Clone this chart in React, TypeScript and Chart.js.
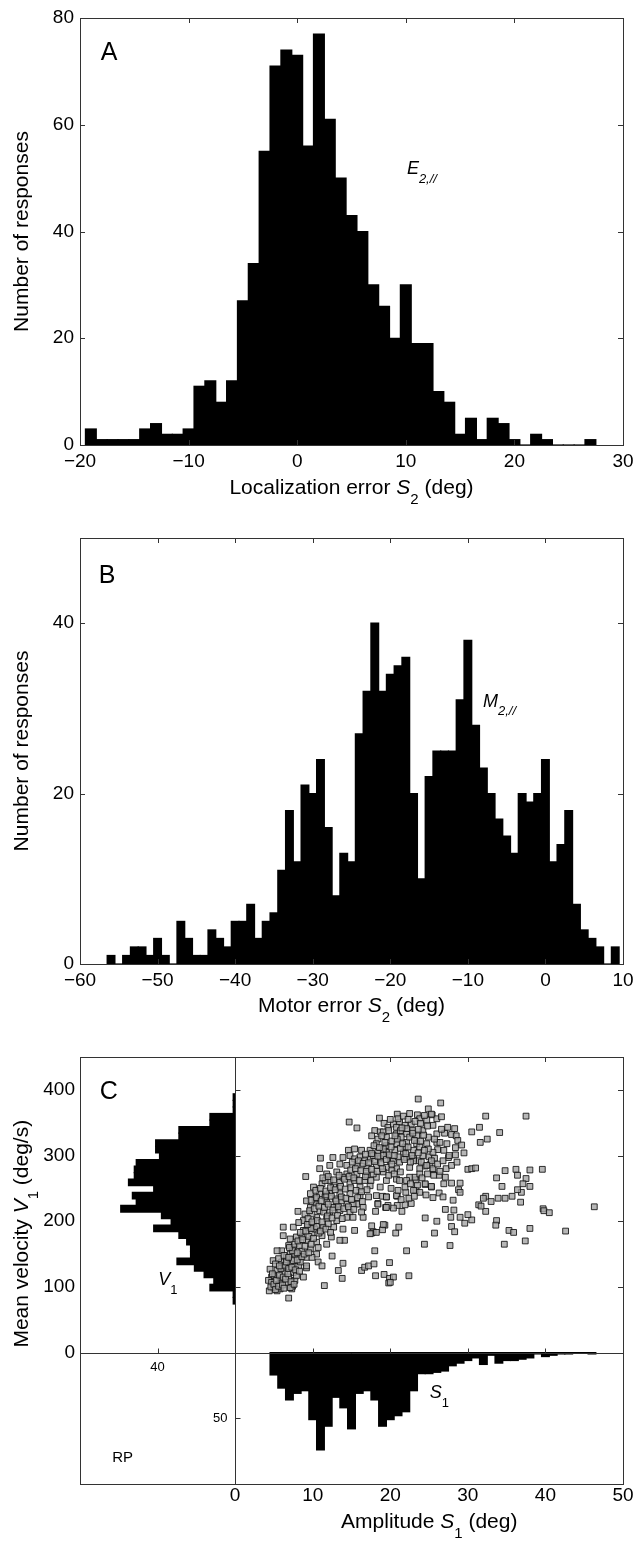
import React, { useEffect, useRef } from 'react';
import { Chart, registerables } from 'chart.js';
Chart.register(...registerables);

const FONT = '"Liberation Sans", Arial, Helvetica, sans-serif';
const LINE = '#333';

// ---------------- Panel A : localization error ----------------
const A_BINS = [-19,-18,-17,-16,-15,-14,-13,-12,-11,-10,-9,-8,-7,-6,-5,-4,-3,-2,-1,0,1,2,3,4,5,6,7,8,9,10,11,12,13,14,15,16,17,18,19,20,21,22,23,24,25,26,27];
const A_COUNTS = [3,1,1,1,1,3,4,2,2,3,11,12,8,12,27,34,55,71,74,73,56,77,61,50,43,40,30,26,20,30,19,19,10,8,2,5,1,5,4,1,0,2,1,0,0,0,1];
const A_X_TICKS = [-20, -10, 0, 10, 20, 30];
const A_Y_TICKS = [0, 20, 40, 60, 80];

// ---------------- Panel B : motor error ----------------
const B_BINS = [-56,-55,-54,-53,-52,-51,-50,-49,-48,-47,-46,-45,-44,-43,-42,-41,-40,-39,-38,-37,-36,-35,-34,-33,-32,-31,-30,-29,-28,-27,-26,-25,-24,-23,-22,-21,-20,-19,-18,-17,-16,-15,-14,-13,-12,-11,-10,-9,-8,-7,-6,-5,-4,-3,-2,-1,0,1,2,3,4,5,6,7,8,9];
const B_COUNTS = [1,0,1,2,2,1,3,1,0,5,3,1,1,4,3,2,5,5,7,3,5,6,11,18,12,21,20,24,16,8,13,12,27,32,40,32,34,35,36,20,10,22,25,25,25,31,38,28,23,20,17,15,13,20,19,20,24,12,14,18,7,4,3,2,0,2];
const B_X_TICKS = [-60, -50, -40, -30, -20, -10, 0, 10];
const B_Y_TICKS = [0, 20, 40];

// ---------------- Panel C : amplitude vs mean velocity ----------------
const C_X_TICKS = [0, 10, 20, 30, 40, 50];
const C_Y_TICKS = [0, 100, 200, 300, 400];
const C_V1_COUNT_TICKS = [40];
const C_S1_COUNT_TICKS = [50];

const C_S1_BINS = [5,6,7,8,9,10,11,12,13,14,15,16,17,18,19,20,21,22,23,24,25,26,27,28,29,30,31,32,33,34,35,36,37,38,39,40,41,42,43,44,45,46];
const C_S1_COUNTS = [17,27,36,31,29,51,74,56,34,42,58,31,29,36,56,51,48,45,29,16,16,15,14,10,8,6,4,9,2,8,6,6,5,4,1,3,2,1,1,0,0,1];

const C_V1_BINS = [79,89,99,109,119,129,139,149,159,169,179,189,199,209,219,229,239,249,259,269,279,289,299,309,319,329,339,349,359,369,379,389];
const C_V1_COUNTS = [1,1,13,11,16,21,30,23,23,25,29,42,33,38,59,51,53,42,55,52,52,51,39,41,41,29,29,13,13,1,1,1];

// [amplitude S1 (deg), mean velocity V1 (deg/s)]
const C_SCATTER: [number, number][] = [
  [23.6,386],[24.9,371],[26.5,380],[25.4,362],[26.0,356],[26.6,359],[20.9,363],[22.5,364],[23.5,362],[14.7,351],
  [15.7,342],[18.6,357],[19.2,349],[32.3,360],[37.5,360],[31.5,343],[30.5,336],[34.1,335],[32.5,325],[31.6,320],
  [27.0,334],[27.9,332],[28.5,330],[28.7,323],[29.5,304],[28.4,301],[27.5,297],[26.9,308],[26.1,309],[30.0,279],
  [30.5,280],[31.0,281],[34.8,277],[36.2,279],[38.0,278],[39.6,279],[36.4,270],[33.7,266],[34.4,253],[37.5,265],
  [37.1,257],[38.0,253],[36.9,244],[36.4,248],[35.7,238],[34.8,235],[33.9,235],[33.0,230],[32.3,238],[32.0,235],
  [31.4,225],[32.3,215],[31.7,223],[36.8,229],[39.7,219],[39.8,216],[40.5,213],[46.3,222],[42.6,185],[34.7,165],
  [37.4,170],[38.0,189],[35.3,186],[35.9,183],[33.7,201],[33.6,194],[30.5,202],[30.0,210],[29.6,197],[29.0,206],
  [27.8,206],[27.9,192],[28.3,184],[26.0,200],[25.7,182],[24.5,205],[24.4,165],[27.7,163],[22.1,155],[18.0,155],
  [20.7,182],[21.1,191],[19.3,194],[19.0,187],[17.8,184],[17.6,182],[15.4,186],[14.1,171],[12.5,147],[13.9,136],
  [13.3,125],[13.8,113],[11.5,102],[16.3,125],[16.7,130],[17.2,132],[17.9,135],[18.1,117],[19.9,137],[19.2,119],
  [19.9,113],[20.4,115],[22.4,117],[19.8,106],[20.0,107],[9.1,268],[11.0,296],[8.1,215],[9.2,129],[6.9,83],
  [7.4,101],[7.3,97],[21.9,225],[22.7,227],[21.5,215],[20.9,224],[20.4,220],[19.7,224],[19.4,221],[18.1,215],
  [18.4,227],[19.0,238],[19.5,237],[20.9,238],[22.0,244],[23.3,247],[23.5,255],[24.5,256],[25.3,252],[26.3,243],
  [26.8,237],[28.1,232],[28.2,217],[27.1,218],[26.9,257],[27.9,258],[29.0,258],[28.8,248],[29.0,244],[26.3,270],
  [27.1,267],[25.5,278],[24.5,284],[25.1,286],[23.6,292],[23.0,296],[25.0,298],[25.7,296],[22.5,267],[23.3,263],
  [25.3,363],[18.0,338],[18.7,336],[19.7,343],[20.4,348],[21.2,351],[21.9,346],[22.7,348],[23.8,356],[24.7,354],
  [25.5,346],[24.2,338],[26.0,333],[24.9,328],[23.4,330],[22.1,333],[20.8,333],[19.5,328],[18.4,325],[17.6,330],
  [18.2,318],[19.5,315],[20.8,318],[22.1,320],[23.4,318],[24.7,318],[26.0,320],[23.0,308],[24.2,300],[25.5,305],
  [24.0,290],[25.3,292],[23.0,292],[21.7,305],[20.6,308],[19.5,305],[18.4,305],[17.4,308],[16.3,308],[15.4,310],
  [14.6,308],[14.8,300],[16.1,298],[17.4,295],[18.7,295],[20.0,292],[21.2,290],[22.5,282],[23.8,280],[25.5,280],
  [23.2,267],[22.1,262],[21.9,252],[23.0,247],[24.5,257],[25.3,253],[20.8,280],[19.5,282],[18.2,285],[17.0,282],
  [15.7,285],[14.4,285],[13.5,287],[12.2,285],[10.9,280],[11.8,272],[13.1,275],[14.4,272],[15.7,272],[17.0,270],
  [18.2,267],[19.5,262],[20.8,264],[18.7,252],[17.4,254],[16.1,252],[14.8,257],[13.5,259],[12.2,262],[11.2,257],
  [10.1,252],[9.7,242],[10.9,242],[12.2,244],[13.5,242],[14.8,242],[16.1,239],[15.7,226],[14.4,226],[13.1,226],
  [11.8,229],[10.5,229],[9.7,221],[10.9,216],[12.2,214],[13.5,216],[14.8,214],[16.5,221],[17.2,237],[18.2,239],
  [19.5,237],[20.8,239],[18.4,226],[19.5,221],[10.5,206],[11.8,204],[13.1,201],[14.4,206],[15.2,206],[16.5,206],
  [17.6,193],[19.1,195],[18.2,183],[17.4,181],[13.9,188],[12.7,191],[11.4,191],[10.1,196],[8.8,201],[7.5,191],
  [8.8,186],[9.9,181],[11.2,178],[12.4,176],[13.5,171],[11.8,165],[10.5,168],[9.2,171],[7.9,176],[7.1,173],
  [6.2,191],[6.2,178],[7.5,160],[8.6,155],[9.7,158],[10.5,150],[9.2,145],[8.2,145],[7.1,150],[6.0,155],
  [5.4,155],[4.9,140],[6.0,138],[7.1,135],[8.2,132],[9.2,132],[10.7,138],[11.2,132],[8.8,115],[7.5,122],
  [6.4,122],[5.4,125],[4.5,127],[4.7,115],[5.8,112],[6.9,115],[7.7,110],[4.9,99],[5.8,97],[7.1,99],
  [4.3,110],[4.4,94],[5.4,94],[9.9,211],[11.4,214],[12.7,221],[11.6,237],[10.3,234],[12.9,234],[9.2,231],
  [9.0,211],[10.3,188],[12.0,196],[8.2,198],[9.4,204],[8.6,176],[10.7,160],[7.7,150],[6.6,145],[5.6,143],
  [6.2,130],[5.1,117],[6.6,107],[7.9,117],[5.8,105],[4.7,107],[8.4,138],[9.9,145],[6.9,163],[9.4,191],
  [13.7,231],[15.2,226],[16.3,214],[13.9,267],[15.4,262],[12.7,252],[11.6,262],[16.7,262],[17.8,272],[19.1,275],
  [20.2,277],[20.4,292],[19.1,300],[17.8,300],[16.7,292],[15.4,295],[13.9,297],[12.6,297],[20.2,322],[21.4,328],
  [22.5,328],[22.9,338],[20.8,343],[19.1,336],[21.9,313],[23.8,313],[24.9,310],[22.1,297],[23.8,272],[24.7,285],
  [4.6,100],[5.0,104],[5.2,96],[5.6,101],[6.1,103],[6.3,98],[4.8,120],[5.3,110],[5.7,118],[6.2,115],
  [6.5,112],[6.8,120],[7.2,108],[7.6,104],[5.9,128],[6.4,133],[6.9,128],[7.3,130],[7.8,126],[8.3,124],
  [5.2,135],[5.7,132],[6.6,138],[7.5,140],[8.0,141],[8.6,146],[6.3,148],[6.9,145],[7.4,155],[8.0,152],
  [8.9,150],[9.5,152],[7.0,160],[7.7,165],[8.3,163],[9.0,162],[9.8,165],[8.1,170],[8.7,172],[9.5,177],
  [10.1,174],[10.8,182],[8.4,183],[9.1,185],[9.8,189],[10.5,192],[11.0,185],[11.7,188],[12.3,183],
  [9.3,195],[9.9,199],[10.6,201],[11.2,199],[11.9,208],[12.5,205],[13.2,209],[13.8,204],[9.6,216],[10.2,219],
  [10.8,223],[11.5,221],[12.0,226],[12.6,217],[13.3,222],[14.0,219],[14.6,222],[15.3,218],[9.8,232],[10.5,236],
  [11.1,231],[11.8,240],[12.4,238],[13.0,231],[13.7,237],[14.3,235],[15.0,233],[15.8,236],[16.4,230],[10.4,247],
  [11.0,250],[11.7,246],[12.3,251],[12.9,248],[13.6,253],[14.2,249],[14.9,251],[15.6,247],[16.3,245],[17.0,248],
  [11.3,266],[12.0,268],[12.7,263],[13.4,270],[14.1,264],[14.7,268],[15.3,266],[16.0,262],[16.8,268],[17.5,262],
  [14.9,278],[15.5,280],[16.2,277],[16.9,276],[17.6,279],[18.3,276],[19.0,280],[19.8,270],[20.5,272],[21.3,275],
  [15.1,290],[15.9,292],[16.5,288],[17.2,289],[18.0,291],[18.8,289],[19.5,294],[20.2,287],[21.0,298],[21.8,294],
  [22.6,290],[16.8,302],[17.6,303],[18.4,299],[19.1,310],[19.9,301],[20.5,300],[21.3,311],[22.0,303],[22.8,300],
  [23.6,304],[17.9,315],[18.6,312],[19.3,320],[20.1,313],[20.9,325],[21.6,318],[22.3,313],[23.1,323],[23.9,322],
  [24.4,308],[18.9,330],[19.8,338],[20.6,330],[21.3,338],[22.1,341],[22.9,334],[23.6,340],[24.3,331],[24.8,345],
  [21.0,356],[21.7,360],[22.3,355],[23.2,352],[23.9,349],[24.4,361],[21.5,342],[20.0,355],
  [24.1,266],[24.8,272],[25.6,270],[26.4,276],[27.2,280],[27.9,285],[28.6,290],[26.1,287],[26.8,292],[27.6,300],
  [28.4,312],[29.2,316],[26.4,320],[27.3,318],[25.7,325],[26.6,340],[27.4,343],[28.3,341],[23.8,244],[24.6,240],
  [25.5,236],[22.4,235],[23.1,238],[21.4,233],[22.6,257],[21.2,262],[20.1,250],[21.0,247]
];

// ---------------- helpers ----------------
const tickFont = { family: FONT, size: 19 };
const TITLE = 21;
const fmt = (v: any) => {
  const n = Number(v);
  return n < 0 ? '\u2212' + Math.abs(n) : String(n);
};
const setTicks = (vals: number[]) => (s: any) => {
  s.ticks = vals.map((v) => ({ value: v }));
};
const fixH = (h: number) => (s: any) => {
  s.height = h;
  s.paddingLeft = s.paddingRight = s.paddingTop = s.paddingBottom = 0;
};
const fixW = (w: number) => (s: any) => {
  s.width = w;
  s.paddingLeft = s.paddingRight = s.paddingTop = s.paddingBottom = 0;
};

type Seg = { t: string; it?: boolean; sub?: boolean };
function drawRich(ctx: CanvasRenderingContext2D, segs: Seg[], x: number, y: number, size: number, align: 'left' | 'center') {
  const subSize = Math.round(size * 0.7);
  const font = (s: Seg) => `${s.it ? 'italic ' : ''}${s.sub ? subSize : size}px ${FONT}`;
  let w = 0;
  for (const s of segs) {
    ctx.font = font(s);
    w += ctx.measureText(s.t).width;
  }
  let cx = align === 'center' ? x - w / 2 : x;
  ctx.textAlign = 'left';
  ctx.textBaseline = 'middle';
  ctx.fillStyle = '#000';
  for (const s of segs) {
    ctx.font = font(s);
    ctx.fillText(s.t, cx, s.sub ? y + size * 0.55 : y);
    cx += ctx.measureText(s.t).width;
  }
}
function drawRotated(ctx: CanvasRenderingContext2D, segs: Seg[], x: number, y: number, size: number) {
  ctx.save();
  ctx.translate(x, y);
  ctx.rotate(-Math.PI / 2);
  drawRich(ctx, segs, 0, 0, size, 'center');
  ctx.restore();
}
const TL = 5;
function vTick(ctx: CanvasRenderingContext2D, x: number, y: number, dir: number) {
  const px = Math.round(x) + 0.5;
  ctx.beginPath();
  ctx.moveTo(px, y);
  ctx.lineTo(px, y + dir * TL);
  ctx.stroke();
}
function hTick(ctx: CanvasRenderingContext2D, x: number, y: number, dir: number) {
  const py = Math.round(y) + 0.5;
  ctx.beginPath();
  ctx.moveTo(x, py);
  ctx.lineTo(x + dir * TL, py);
  ctx.stroke();
}
function frame(ctx: CanvasRenderingContext2D, a: any) {
  const l = Math.round(a.left), t = Math.round(a.top), r = Math.round(a.right), b = Math.round(a.bottom);
  ctx.strokeStyle = LINE;
  ctx.lineWidth = 1;
  ctx.strokeRect(l + 0.5, t + 0.5, r - l, b - t);
}
function boxTicks(ctx: CanvasRenderingContext2D, chart: any, xt: number[], yt: number[]) {
  const a = chart.chartArea, xs = chart.scales.x, ys = chart.scales.y;
  ctx.strokeStyle = LINE;
  ctx.lineWidth = 1;
  for (const v of xt) {
    if (v <= xs.min || v >= xs.max) continue;
    const x = xs.getPixelForValue(v);
    vTick(ctx, x, a.top, 1);
    vTick(ctx, x, a.bottom, -1);
  }
  for (const v of yt) {
    if (v <= ys.min || v >= ys.max) continue;
    const y = ys.getPixelForValue(v);
    hTick(ctx, a.left, y, 1);
    hTick(ctx, a.right, y, -1);
  }
}

const baseOptions = {
  animation: false,
  responsive: false,
  maintainAspectRatio: false,
  events: [],
  plugins: { legend: { display: false }, tooltip: { enabled: false } },
};

const axisCommon = {
  type: 'linear',
  offset: false,
  grid: { display: false, drawTicks: false, offset: false },
  border: { display: false },
};

const barStyle = {
  backgroundColor: '#000',
  borderWidth: 0,
  barPercentage: 1,
  categoryPercentage: 1,
  grouped: false,
  inflateAmount: 0.6,
};

function histConfig(opts: {
  bins: number[]; counts: number[]; xt: number[]; yt: number[];
  xmin: number; xmax: number; ymin: number; ymax: number;
  padTop: number; axisH: number;
  deco: (chart: any, ctx: CanvasRenderingContext2D) => void;
}) {
  return {
    type: 'bar',
    data: {
      datasets: [{
        data: opts.bins.map((b, i) => ({ x: b, y: opts.counts[i] })),
        ...barStyle,
      }],
    },
    options: {
      ...baseOptions,
      layout: { padding: { top: opts.padTop, right: 11, left: 0, bottom: 0 } },
      scales: {
        x: {
          ...axisCommon, min: opts.xmin, max: opts.xmax,
          afterBuildTicks: setTicks(opts.xt), afterFit: fixH(opts.axisH),
          ticks: { font: tickFont, color: '#000', padding: 5, maxRotation: 0, autoSkip: false, callback: fmt },
        },
        y: {
          ...axisCommon, min: opts.ymin, max: opts.ymax,
          afterBuildTicks: setTicks(opts.yt), afterFit: fixW(80),
          ticks: { font: tickFont, color: '#000', padding: 6, callback: fmt },
        },
      },
    },
    plugins: [{ id: 'deco', afterDraw(chart: any) { const ctx = chart.ctx; ctx.save(); opts.deco(chart, ctx); ctx.restore(); } }],
  };
}

const configA = () => histConfig({
  bins: A_BINS, counts: A_COUNTS, xt: A_X_TICKS, yt: A_Y_TICKS,
  xmin: -20, xmax: 30, ymin: 0, ymax: 80, padTop: 18, axisH: 60,
  deco: (chart, ctx) => {
    const a = chart.chartArea, xs = chart.scales.x, ys = chart.scales.y;
    frame(ctx, a);
    boxTicks(ctx, chart, A_X_TICKS, A_Y_TICKS);
    drawRich(ctx, [{ t: 'A' }], xs.getPixelForValue(-17.33), ys.getPixelForValue(73.5), 25, 'center');
    drawRich(ctx, [{ t: 'E', it: true }, { t: '2,//', sub: true, it: true }], xs.getPixelForValue(10.1), ys.getPixelForValue(51.7), 18, 'left');
    drawRich(ctx, [{ t: 'Localization error ' }, { t: 'S', it: true }, { t: '2', sub: true }, { t: ' (deg)' }], (a.left + a.right) / 2, a.bottom + 43, TITLE, 'center');
    drawRotated(ctx, [{ t: 'Number of responses' }], 22, (a.top + a.bottom) / 2, TITLE);
  },
});

const configB = () => histConfig({
  bins: B_BINS, counts: B_COUNTS, xt: B_X_TICKS, yt: B_Y_TICKS,
  xmin: -60, xmax: 10, ymin: 0, ymax: 50, padTop: 33, axisH: 61,
  deco: (chart, ctx) => {
    const a = chart.chartArea, xs = chart.scales.x, ys = chart.scales.y;
    frame(ctx, a);
    boxTicks(ctx, chart, B_X_TICKS, B_Y_TICKS);
    drawRich(ctx, [{ t: 'B' }], xs.getPixelForValue(-56.5), ys.getPixelForValue(45.5), 25, 'center');
    drawRich(ctx, [{ t: 'M', it: true }, { t: '2,//', sub: true, it: true }], xs.getPixelForValue(-8.05), ys.getPixelForValue(30.8), 18, 'left');
    drawRich(ctx, [{ t: 'Motor error ' }, { t: 'S', it: true }, { t: '2', sub: true }, { t: ' (deg)' }], (a.left + a.right) / 2, a.bottom + 42, TITLE, 'center');
    drawRotated(ctx, [{ t: 'Number of responses' }], 22, (a.top + a.bottom) / 2, TITLE);
  },
});

const configC = () => ({
  type: 'scatter',
  data: {
    datasets: [
      {
        type: 'scatter',
        data: C_SCATTER.map(([x, y]) => ({ x, y })),
        xAxisID: 'x', yAxisID: 'y',
        pointStyle: 'rect',
        pointRadius: 4.1,
        backgroundColor: 'rgba(165,165,165,0.8)',
        borderColor: 'rgba(15,15,15,0.85)',
        borderWidth: 1,
      },
      {
        type: 'bar',
        data: C_S1_BINS.map((b, i) => ({ x: b, y: C_S1_COUNTS[i] })),
        xAxisID: 'x', yAxisID: 'yh',
        ...barStyle,
      },
      {
        type: 'bar',
        indexAxis: 'y',
        data: C_V1_BINS.map((b, i) => ({ y: b, x: C_V1_COUNTS[i] })),
        xAxisID: 'xh', yAxisID: 'y',
        ...barStyle,
      },
    ],
  },
  options: {
    ...baseOptions,
    layout: { padding: { top: 32, right: 11, left: 0, bottom: 0 } },
    scales: {
      x: {
        ...axisCommon, min: -20, max: 50,
        afterBuildTicks: setTicks(C_X_TICKS), afterFit: fixH(57),
        ticks: { font: tickFont, color: '#000', padding: 0, maxRotation: 0, autoSkip: false, callback: fmt },
      },
      y: {
        ...axisCommon, min: -200, max: 450,
        afterBuildTicks: setTicks(C_Y_TICKS), afterFit: fixW(80),
        ticks: { font: tickFont, color: '#000', padding: 5, callback: fmt },
      },
      xh: { ...axisCommon, display: false, reverse: true, min: -200, max: 80 },
      yh: { ...axisCommon, display: false, reverse: true, min: -225, max: 100 },
    },
  },
  plugins: [{
    id: 'decoC',
    afterDraw(chart: any) {
      const ctx: CanvasRenderingContext2D = chart.ctx;
      ctx.save();
      const a = chart.chartArea, xs = chart.scales.x, ys = chart.scales.y, xh = chart.scales.xh, yh = chart.scales.yh;
      frame(ctx, a);
      const x0 = Math.round(xs.getPixelForValue(0)) + 0.5;
      const y0 = Math.round(ys.getPixelForValue(0)) + 0.5;
      ctx.strokeStyle = LINE;
      ctx.lineWidth = 1;
      ctx.beginPath();
      ctx.moveTo(x0, a.top); ctx.lineTo(x0, a.bottom);
      ctx.moveTo(a.left, y0); ctx.lineTo(a.right, y0);
      ctx.stroke();
      for (const v of C_X_TICKS) {
        if (v <= 0 || v >= xs.max) continue;
        const x = xs.getPixelForValue(v);
        vTick(ctx, x, a.top, 1);
        vTick(ctx, x, y0, -1);
      }
      for (const v of C_Y_TICKS) {
        if (v <= 0 || v >= ys.max) continue;
        const y = ys.getPixelForValue(v);
        hTick(ctx, x0, y, 1);
        hTick(ctx, a.right, y, -1);
      }
      ctx.fillStyle = '#000';
      for (const c of C_V1_COUNT_TICKS) {
        const x = xh.getPixelForValue(c);
        vTick(ctx, x, y0, -1);
        ctx.font = `13px ${FONT}`;
        ctx.textAlign = 'center';
        ctx.textBaseline = 'middle';
        ctx.fillText(String(c), x, y0 + 14);
      }
      for (const c of C_S1_COUNT_TICKS) {
        const y = yh.getPixelForValue(c);
        hTick(ctx, x0, y, 1);
        ctx.font = `13px ${FONT}`;
        ctx.textAlign = 'right';
        ctx.textBaseline = 'middle';
        ctx.fillText(String(c), x0 - 8, y);
      }
      drawRich(ctx, [{ t: 'C' }], xs.getPixelForValue(-16.3), ys.getPixelForValue(397), 25, 'center');
      drawRich(ctx, [{ t: 'V', it: true }, { t: '1', sub: true }], xs.getPixelForValue(-9.9), ys.getPixelForValue(110), 18, 'left');
      drawRich(ctx, [{ t: 'S', it: true }, { t: '1', sub: true }], xs.getPixelForValue(25.1), ys.getPixelForValue(-62), 18, 'left');
      drawRich(ctx, [{ t: 'RP' }], xs.getPixelForValue(-14.5), ys.getPixelForValue(-160), 15, 'center');
      drawRich(ctx, [{ t: 'Amplitude ' }, { t: 'S', it: true }, { t: '1', sub: true }, { t: ' (deg)' }], (x0 + a.right) / 2, a.bottom + 38, TITLE, 'center');
      drawRotated(ctx, [{ t: 'Mean velocity ' }, { t: 'V', it: true }, { t: '1', sub: true }, { t: ' (deg/s)' }], 22, ys.getPixelForValue(181), TITLE);
      ctx.restore();
    },
  }],
});

function ChartCanvas({ make, top, height }: { make: () => any; top: number; height: number }) {
  const ref = useRef<HTMLCanvasElement>(null);
  useEffect(() => {
    const chart = new Chart(ref.current as HTMLCanvasElement, make());
    return () => chart.destroy();
  }, []);
  return (
    <canvas
      ref={ref}
      width={634}
      height={height}
      style={{ position: 'absolute', left: 0, top, width: 634, height, display: 'block' }}
    />
  );
}

export default function App() {
  return (
    <div style={{ position: 'absolute', left: 0, top: 0, width: 634, height: 1541, background: '#fff', overflow: 'hidden' }}>
      <ChartCanvas make={configA} top={0} height={505} />
      <ChartCanvas make={configB} top={505} height={520} />
      <ChartCanvas make={configC} top={1025} height={516} />
    </div>
  );
}
